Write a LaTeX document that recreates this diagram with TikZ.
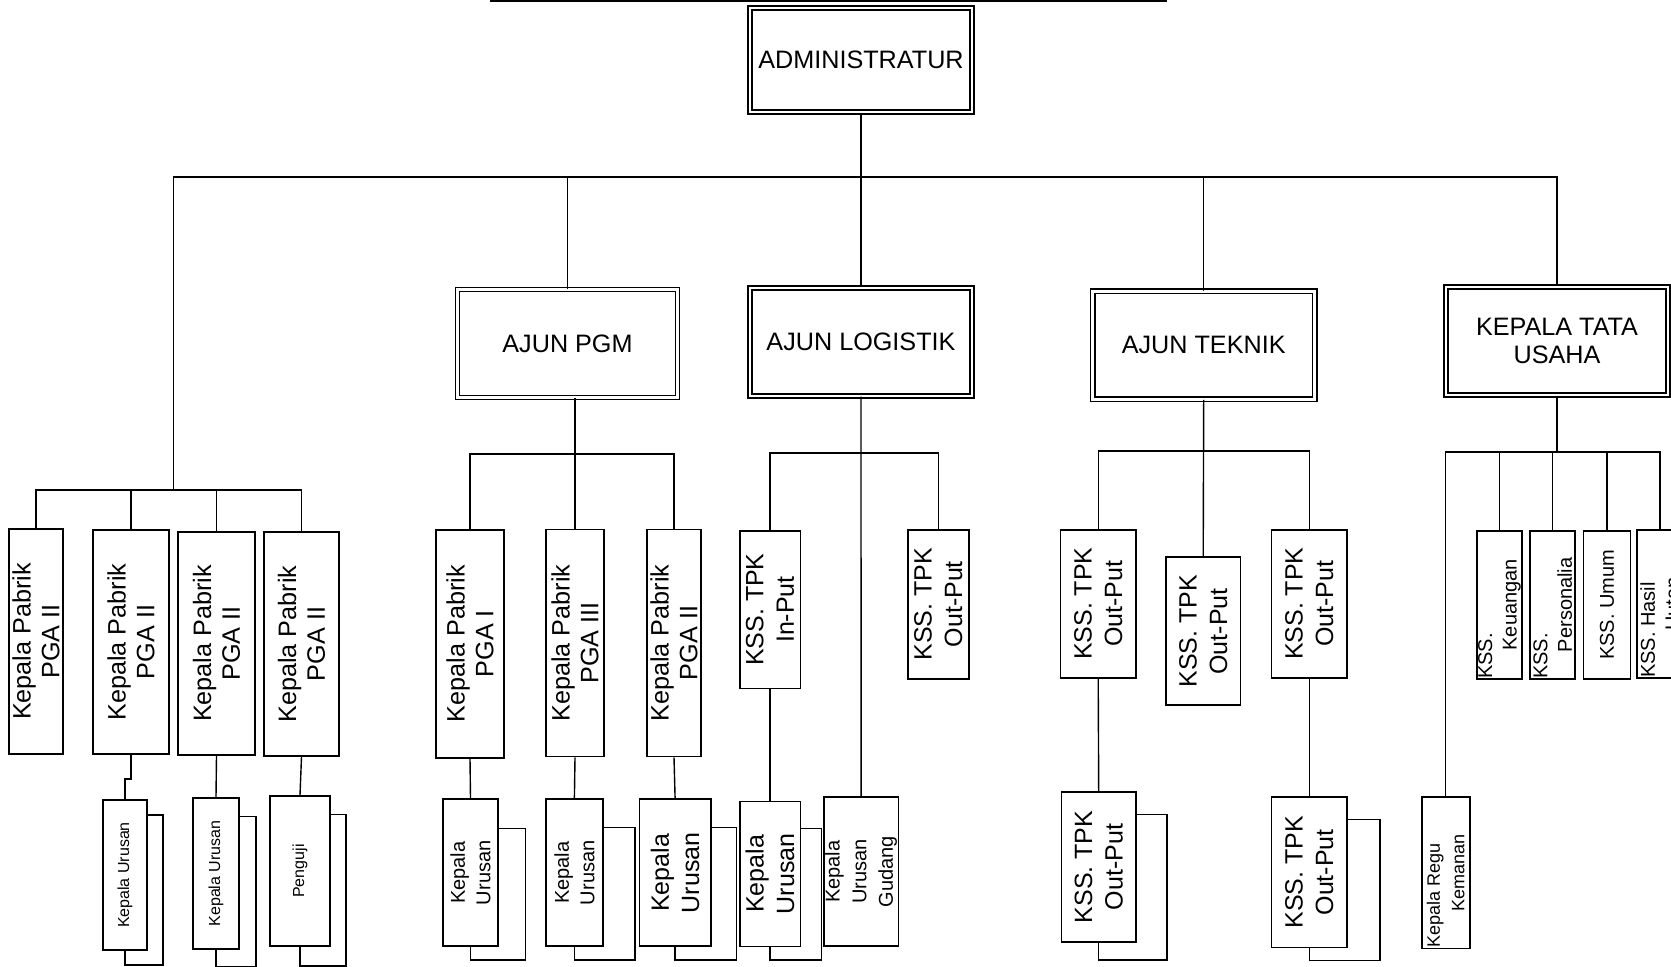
\documentclass[tikz,border=0pt]{standalone}
\usepackage{fontspec}
\setmainfont{Liberation Sans}

\newcommand{\fbig}{\fontsize{12.6}{14.4}\selectfont}
\newcommand{\fkss}{\fontsize{12.5}{15.2}\selectfont}
\newcommand{\fmid}{\fontsize{10}{12.8}\selectfont}
\newcommand{\fgud}{\fontsize{10}{13.3}\selectfont}
\newcommand{\fks}{\fontsize{10}{12.3}\selectfont}
\newcommand{\fregu}{\fontsize{9}{12.3}\selectfont}
\newcommand{\fsmall}{\fontsize{8}{9.6}\selectfont}
\newcommand{\lowline}[2]{\makebox[#1][l]{#2}}
% back sheet behind a box: node, top offset, right offset, bottom offset
\newcommand{\backbox}[4]{\draw[conn] ([yshift=-#2]#1.north east) -| ([xshift=#3,yshift=-#4]#1.south east) -| (#1.south);}

\tikzset{
  dbox/.style={draw, double, double distance=1.4pt, line width=0.7pt, font=\fbig, align=center, inner sep=0pt},
  vbox/.style={draw, line width=0.9pt, inner sep=0pt},
  vlab/.style={rotate=90, align=center, inner sep=0pt, font=\fbig},
  conn/.style={line width=0.7pt},
}

\begin{document}
\begin{tikzpicture}[x=0.5pt, y=-0.5pt]
  \useasboundingbox (0,0) rectangle (1671,967);
  % edge of the box above
  \draw[line width=1pt] (490,1) -- (1167,1);

  % double boxes
  \node[dbox, minimum width=111pt, minimum height=52pt] (admin) at (861,60) {ADMINISTRATUR};
  \node[dbox, minimum width=110pt, minimum height=54pt] (pgm) at (567.5,343.5) {AJUN PGM};
  \node[dbox, minimum width=111pt, minimum height=54pt] (logistik) at (861,342) {AJUN LOGISTIK};
  \node[dbox, minimum width=111pt, minimum height=54pt] (teknik) at (1203.7,345.3) {AJUN TEKNIK};
  \node[dbox, minimum width=111pt, minimum height=54pt] (tatausaha) at (1557,341) {KEPALA TATA\\USAHA};

  % main bus
  \coordinate (topbus) at (861,177);
  \coordinate (lbus) at (173.7,490);
  \draw[conn] (admin.south) -- (logistik.north);
  \draw[conn] (lbus) |- (tatausaha.north |- topbus) -- (tatausaha.north);
  \draw[conn] (pgm.north) -- (pgm.north |- topbus);
  \draw[conn] (teknik.north) -- (teknik.north |- topbus);

  % left group
  \node[vbox, minimum width=27pt, minimum height=112.5pt, label={[vlab]center:Kepala Pabrik\\PGA II}] (b1) at (36,641.5) {};
  \node[vbox, minimum width=38pt, minimum height=112pt, label={[vlab]center:Kepala Pabrik\\PGA II}] (b2) at (131,642) {};
  \node[vbox, minimum width=38.5pt, minimum height=111.5pt, label={[vlab]center:Kepala Pabrik\\PGA II}] (b3) at (216.5,643.5) {};
  \node[vbox, minimum width=37.5pt, minimum height=112pt, label={[vlab]center:Kepala Pabrik\\PGA II}] (b4) at (301.5,644) {};
  \node[vbox, minimum width=22pt, minimum height=75pt, label={[vlab,font=\fsmall]center:Kepala Urusan}] (s1) at (125,875) {};
  \node[vbox, minimum width=23pt, minimum height=75.5pt, label={[vlab,font=\fsmall]center:Kepala Urusan}] (s2) at (216,873.5) {};
  \node[vbox, minimum width=30pt, minimum height=75pt, label={[vlab,font=\fsmall]center:Penguji}] (s3) at (300,871) {};
  \draw[conn] (b1.north) |- (b4.north |- lbus) -- (b4.north);
  \draw[conn] (b2.north) -- (b2.north |- lbus);
  \draw[conn] (b3.north) -- (b3.north |- lbus);
  \draw[conn] (b2.south) -- ++(0,24) -| (s1.north);
  \draw[conn] (b3.south) -- (s2.north);
  \draw[conn] (b4.south) -- (s3.north);
  \backbox{s1}{8pt}{7.5pt}{7pt}
  \backbox{s2}{9.6pt}{8pt}{8.5pt}
  \backbox{s3}{9.6pt}{7.5pt}{9.6pt}

  % ajun pgm group
  \coordinate (pgmbus) at (575,454);
  \node[vbox, minimum width=34pt, minimum height=114pt, label={[vlab]center:Kepala Pabrik\\PGA I}] (p1) at (470,643.7) {};
  \node[vbox, minimum width=29.3pt, minimum height=113.5pt, label={[vlab]center:Kepala Pabrik\\PGA III}] (p2) at (575,643) {};
  \node[vbox, minimum width=27.2pt, minimum height=113.5pt, label={[vlab]center:Kepala Pabrik\\PGA II}] (p3) at (674,643) {};
  \node[vbox, minimum width=27.2pt, minimum height=73.5pt, label={[vlab,font=\fmid]center:Kepala\\Urusan}] (u1) at (470.5,872.8) {};
  \node[vbox, minimum width=28.8pt, minimum height=73.5pt, label={[vlab,font=\fmid]center:Kepala\\Urusan}] (u2) at (574.4,872.8) {};
  \node[vbox, minimum width=35.7pt, minimum height=73.5pt, label={[vlab,font=\fkss]center:Kepala\\Urusan}] (u3) at (675.1,872.8) {};
  \draw[conn] (p2.north) -- (p2.north |- pgm.south);
  \draw[conn] (p1.north) |- (p3.north |- pgmbus) -- (p3.north);
  \draw[conn] (p1.south) -- (u1.north);
  \draw[conn] (p2.south) -- (u2.north);
  \draw[conn] (p3.south) -- (u3.north);
  \backbox{u1}{15pt}{13.3pt}{6.4pt}
  \backbox{u2}{14.4pt}{15.5pt}{6.4pt}
  \backbox{u3}{14.4pt}{12.3pt}{6.4pt}

  % ajun logistik group
  \coordinate (logbus) at (861,453);
  \node[vbox, minimum width=30.4pt, minimum height=78.9pt, label={[vlab,font=\fkss]center:KSS. TPK\\In-Put}] (l1) at (770,609.6) {};
  \node[vbox, minimum width=30.4pt, minimum height=74.5pt, label={[vlab,font=\fkss]center:KSS. TPK\\Out-Put}] (l2) at (938.3,604.2) {};
  \node[vbox, minimum width=30.4pt, minimum height=72.5pt, label={[vlab,font=\fkss]center:Kepala\\Urusan}] (u4) at (770,873.9) {};
  \node[vbox, minimum width=37.3pt, minimum height=74.6pt, label={[vlab,font=\fgud]center:Kepala\\Urusan\\Gudang}] (gudang) at (861.1,871.7) {};
  \draw[conn] (logistik.south) -- (gudang.north);
  \draw[conn] (l1.north) |- (l2.north |- logbus) -- (l2.north);
  \draw[conn] (l1.south) -- (u4.north);
  \backbox{u4}{14pt}{10pt}{6.4pt}

  % ajun teknik group
  \coordinate (tekbus) at (1203,451);
  \node[vbox, minimum width=37.8pt, minimum height=74pt, label={[vlab,font=\fkss]center:KSS. TPK\\Out-Put}] (t1) at (1098.2,603.7) {};
  \node[vbox, minimum width=37.3pt, minimum height=74pt, label={[vlab,font=\fkss]center:KSS. TPK\\Out-Put}] (t2) at (1203.2,631.4) {};
  \node[vbox, minimum width=37.8pt, minimum height=74pt, label={[vlab,font=\fkss]center:KSS. TPK\\Out-Put}] (t3) at (1309.2,603.7) {};
  \node[vbox, minimum width=37.3pt, minimum height=75.1pt, label={[vlab,font=\fkss]center:KSS. TPK\\Out-Put}] (t4) at (1098.7,867) {};
  \node[vbox, minimum width=37.8pt, minimum height=75.1pt, label={[vlab,font=\fkss]center:KSS. TPK\\Out-Put}] (t5) at (1309.2,872.3) {};
  \draw[conn] (teknik.south) -- (t2.north);
  \draw[conn] (t1.north) |- (t3.north |- tekbus) -- (t3.north);
  \draw[conn] (t1.south) -- (t4.north);
  \draw[conn] (t3.south) -- (t5.north);
  \backbox{t4}{11.7pt}{15pt}{8.5pt}
  \backbox{t5}{11.7pt}{16pt}{6pt}

  % kepala tata usaha group
  \coordinate (tubus) at (1557,452);
  \node[vbox, minimum width=22.4pt, minimum height=74pt, label={[vlab,font=\fks]center:\lowline{74pt}{KSS.}\\Keuangan}] (k1) at (1499.4,604.8) {};
  \node[vbox, minimum width=22.4pt, minimum height=74pt, label={[vlab,font=\fks]center:\lowline{74pt}{KSS.}\\Personalia}] (k2) at (1552.7,604.8) {};
  \node[vbox, minimum width=23.5pt, minimum height=74pt, label={[vlab,font=\fks]center:KSS. Umum}] (k3) at (1607,604.8) {};
  \node[vbox, minimum width=23pt, minimum height=74pt, label={[vlab,font=\fks]center:\lowline{74pt}{KSS. Hasil}\\Hutan}] (k4) at (1660,604) {};
  \node[vbox, minimum width=24pt, minimum height=75.7pt, label={[vlab,font=\fregu]center:\lowline{75pt}{Kepala Regu}\\Kemanan}] (regu) at (1445.6,872.8) {};
  \draw[conn] (tatausaha.south) -- (tatausaha.south |- tubus);
  \draw[conn] (regu.north) |- (k4.north |- tubus) -- (k4.north);
  \draw[conn] (k1.north) -- (k1.north |- tubus);
  \draw[conn] (k2.north) -- (k2.north |- tubus);
  \draw[conn] (k3.north) -- (k3.north |- tubus);
\end{tikzpicture}
\end{document}
